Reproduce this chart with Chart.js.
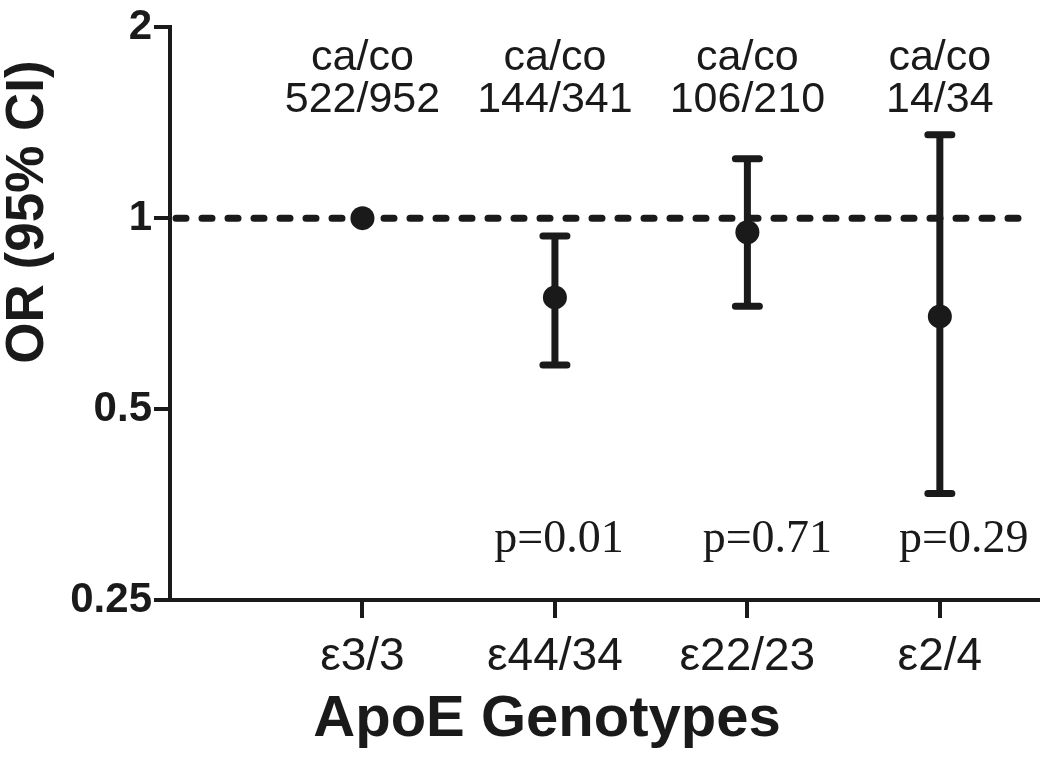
<!DOCTYPE html>
<html>
<head>
<meta charset="utf-8">
<script src="https://cdn.jsdelivr.net/npm/chart.js@4"></script>
<style>
    body { margin: 0; background: #fff; }
    canvas { display: block; }
</style>
</head>
<body>
<canvas id="orChart" width="1050" height="765"></canvas>
<script>
// values
const genotypes = ["ε3/3", "ε44/34", "ε22/23", "ε2/4"];
const orValues = [1, 0.75, 0.95, 0.70];
const ciLower = [null, 0.587, 0.726, 0.368];
const ciUpper = [null, 0.937, 1.241, 1.353];
const caseControl = ["522/952", "144/341", "106/210", "14/34"];
const pValues = [null, "p=0.01", "p=0.71", "p=0.29"];
const yTicks = [0.25, 0.5, 1, 2];

const ink = "#1a1a1a";

const annotate = {
    id: "annotate",
    beforeDatasetsDraw(chart) {
        const ctx = chart.ctx;
        const x = chart.scales.x;
        const y = chart.scales.y;
        const area = chart.chartArea;

        // dashed reference line at OR = 1
        ctx.save();
        ctx.strokeStyle = ink;
        ctx.lineWidth = 7;
        ctx.lineCap = "round";
        ctx.setLineDash([10, 16]);
        let y1 = y.getPixelForValue(1);
        ctx.beginPath();
        ctx.moveTo(area.left + 6, y1);
        ctx.lineTo(area.right - 4, y1);
        ctx.stroke();
        ctx.restore();

        // confidence interval bars
        ctx.save();
        ctx.strokeStyle = ink;
        ctx.lineWidth = 7;
        ctx.lineCap = "round";
        genotypes.forEach((g, i) => {
            if (ciLower[i] == null) return;
            let px = x.getPixelForValue(i + 1);
            let top = y.getPixelForValue(ciUpper[i]);
            let bot = y.getPixelForValue(ciLower[i]);
            ctx.beginPath();
            ctx.moveTo(px, top);
            ctx.lineTo(px, bot);
            ctx.moveTo(px - 12, top);
            ctx.lineTo(px + 12, top);
            ctx.moveTo(px - 12, bot);
            ctx.lineTo(px + 12, bot);
            ctx.stroke();
        });
        ctx.restore();
    },
    afterDraw(chart) {
        const ctx = chart.ctx;
        const x = chart.scales.x;
        ctx.save();
        ctx.fillStyle = ink;
        ctx.textAlign = "center";
        ctx.textBaseline = "middle";

        // case/control counts above each genotype
        ctx.font = "43px 'Liberation Sans', Arial, sans-serif";
        genotypes.forEach((g, i) => {
            let px = x.getPixelForValue(i + 1);
            ctx.fillText("ca/co", px, 58);
            ctx.fillText(caseControl[i], px, 100);
        });

        // p values, nudged a little right as in the figure
        let nudge = [0, 4, 20, 24];
        ctx.font = "46px 'Liberation Serif', 'Times New Roman', serif";
        pValues.forEach((p, i) => {
            if (!p) return;
            let px = x.getPixelForValue(i + 1);
            ctx.fillText(p, px + nudge[i], 540);
        });

        // axis titles
        ctx.font = "bold 58px 'Liberation Sans', Arial, sans-serif";
        ctx.fillText("ApoE Genotypes", 547, 720);
        ctx.translate(28, 212);
        ctx.rotate(-Math.PI / 2);
        ctx.font = "bold 53px 'Liberation Sans', Arial, sans-serif";
        ctx.fillText("OR (95% CI)", 0, 0);
        ctx.restore();
    }
};

new Chart(document.getElementById("orChart"), {
    type: "scatter",
    data: {
        datasets: [{
            data: orValues.map((v, i) => ({ x: i + 1, y: v })),
            pointRadius: 12,
            pointHoverRadius: 12,
            backgroundColor: ink,
            borderColor: ink,
            borderWidth: 0
        }]
    },
    options: {
        responsive: false,
        animation: false,
        layout: { padding: { top: 21, right: 7, left: 0, bottom: 0 } },
        plugins: {
            legend: { display: false },
            tooltip: { enabled: false }
        },
        scales: {
            x: {
                type: "linear",
                min: 0,
                max: 4.51,
                afterBuildTicks: scale => {
                    scale.ticks = genotypes.map((g, i) => ({ value: i + 1 }));
                },
                afterFit: scale => { scale.height = 165; },
                ticks: {
                    callback: v => genotypes[v - 1],
                    color: ink,
                    padding: 12,
                    maxRotation: 0,
                    font: { family: "'Liberation Sans', Arial, sans-serif", size: 46 }
                },
                grid: {
                    drawOnChartArea: false,
                    tickLength: 18,
                    lineWidth: 4,
                    color: ink
                },
                border: { width: 4, color: ink }
            },
            y: {
                type: "logarithmic",
                min: 0.25,
                max: 2,
                afterBuildTicks: scale => {
                    scale.ticks = yTicks.map(v => ({ value: v }));
                },
                afterFit: scale => { scale.width = 170; },
                ticks: {
                    callback: v => String(v),
                    color: ink,
                    padding: 2,
                    font: { family: "'Liberation Sans', Arial, sans-serif", size: 42, weight: "bold" }
                },
                grid: {
                    drawOnChartArea: false,
                    tickLength: 16,
                    lineWidth: 4,
                    color: ink
                },
                border: { width: 4, color: ink }
            }
        }
    },
    plugins: [annotate]
});
</script>
</body>
</html>
